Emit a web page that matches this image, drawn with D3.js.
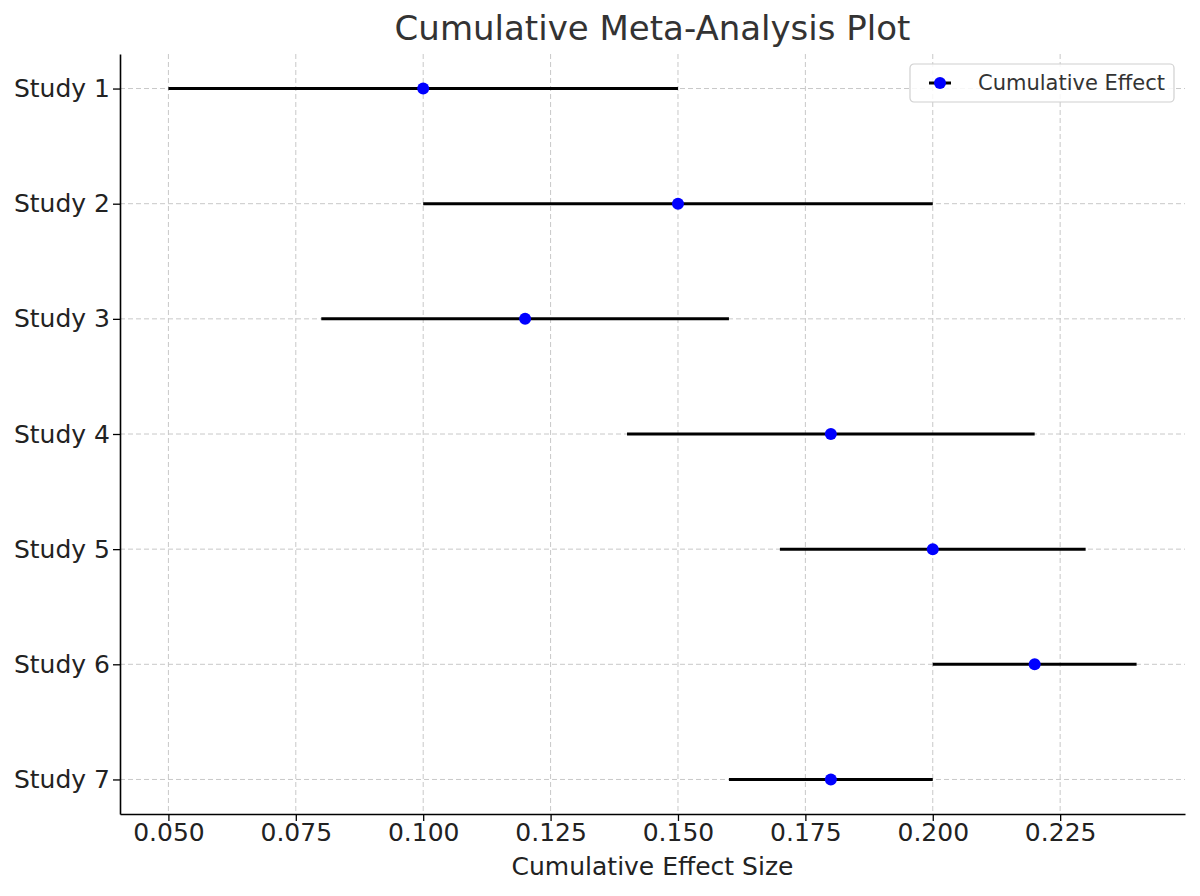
<!DOCTYPE html>
<html>
<head>
<meta charset="utf-8">
<script src="https://cdn.jsdelivr.net/npm/d3@7"></script>
<style>
  body { margin: 0; background: #fff; }
  svg { font-family: "DejaVu Sans", sans-serif; }
</style>
</head>
<body>
<svg id="chart" width="1200" height="896"></svg>
<script>
const studies = ['Study 1', 'Study 2', 'Study 3', 'Study 4', 'Study 5', 'Study 6', 'Study 7']
const effects = [0.10, 0.15, 0.12, 0.18, 0.20, 0.22, 0.18]
const lower = [0.05, 0.10, 0.08, 0.14, 0.17, 0.20, 0.16]
const upper = [0.15, 0.20, 0.16, 0.22, 0.23, 0.24, 0.20]
const xTicks = [0.050, 0.075, 0.100, 0.125, 0.150, 0.175, 0.200, 0.225]

const data = studies.map((s, i) => ({ study: s, effect: effects[i], lo: lower[i], hi: upper[i] }))

const svg = d3.select('#chart')
const margin = { left: 120, right: 15, top: 54, bottom: 82 }
const width = 1200 - margin.left - margin.right
const height = 896 - margin.top - margin.bottom

// matplotlib-style 5% padding
const xMin = d3.min(lower), xMax = d3.max(upper)
const pad = (xMax - xMin) * 0.05
const x = d3.scaleLinear().domain([xMin - pad, xMax + pad]).range([0, width])
const y = d3.scaleLinear().domain([-0.3, studies.length - 1 + 0.3]).range([0, height])

const g = svg.append('g').attr('transform', `translate(${margin.left},${margin.top})`)

// grid
g.append('g').selectAll('line.vg')
  .data(xTicks).enter().append('line')
  .attr('x1', d => x(d)).attr('x2', d => x(d))
  .attr('y1', 0).attr('y2', height)
  .attr('stroke', '#c8c8c8').attr('stroke-width', 1).attr('stroke-dasharray', '5,3')
g.append('g').selectAll('line.hg')
  .data(studies).enter().append('line')
  .attr('x1', 0).attr('x2', width)
  .attr('y1', (d, i) => y(i)).attr('y2', (d, i) => y(i))
  .attr('stroke', '#c8c8c8').attr('stroke-width', 1).attr('stroke-dasharray', '5,3')

// error bars
g.append('g').selectAll('line.ci')
  .data(data).enter().append('line')
  .attr('x1', d => x(d.lo)).attr('x2', d => x(d.hi))
  .attr('y1', (d, i) => y(i)).attr('y2', (d, i) => y(i))
  .attr('stroke', '#000').attr('stroke-width', 3)

g.append('g').selectAll('circle')
  .data(data).enter().append('circle')
  .attr('cx', d => x(d.effect)).attr('cy', (d, i) => y(i))
  .attr('r', 6).attr('fill', '#0000ff')

// axes
const xAxis = g.append('g')
  .attr('transform', `translate(0,${height})`)
  .call(d3.axisBottom(x).tickValues(xTicks).tickFormat(d3.format('.3f')).tickSize(7).tickSizeOuter(0).tickPadding(2))
const yAxis = g.append('g')
  .call(d3.axisLeft(y).tickValues(d3.range(studies.length)).tickFormat(i => studies[i]).tickSize(7).tickSizeOuter(0).tickPadding(3))

;[xAxis, yAxis].forEach(a => {
  a.select('.domain').attr('stroke', '#000').attr('stroke-width', 1.6)
  a.selectAll('.tick line').attr('stroke', '#000').attr('stroke-width', 1.3)
  a.selectAll('.tick text').attr('fill', '#222').style('font-size', '25px').style('font-family', '"DejaVu Sans", sans-serif')
})

// title and axis label
svg.append('text')
  .attr('x', margin.left + width / 2).attr('y', 40)
  .attr('text-anchor', 'middle')
  .attr('fill', '#333').style('font-size', '34px')
  .text('Cumulative Meta-Analysis Plot')

svg.append('text')
  .attr('x', margin.left + width / 2).attr('y', 875)
  .attr('text-anchor', 'middle')
  .attr('fill', '#222').style('font-size', '25px')
  .text('Cumulative Effect Size')

// legend
const lg = svg.append('g').attr('transform', 'translate(910,64)')
lg.append('rect')
  .attr('width', 264).attr('height', 38).attr('rx', 4)
  .attr('fill', '#fff').attr('fill-opacity', 0.85)
  .attr('stroke', '#d0d0d0').attr('stroke-width', 1.2)
lg.append('line')
  .attr('x1', 19).attr('x2', 41).attr('y1', 19).attr('y2', 19)
  .attr('stroke', '#000').attr('stroke-width', 3)
lg.append('circle').attr('cx', 30).attr('cy', 19).attr('r', 6).attr('fill', '#0000ff')
lg.append('text')
  .attr('x', 68).attr('y', 26)
  .attr('fill', '#333').style('font-size', '21px')
  .text('Cumulative Effect')
</script>
</body>
</html>
